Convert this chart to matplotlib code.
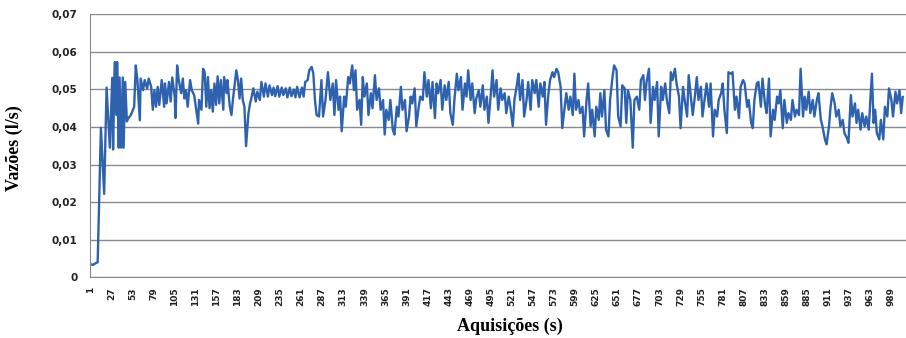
import numpy as np
import matplotlib
matplotlib.use("Agg")
import matplotlib.pyplot as plt

# --- data (acquisition s, flow l/s) ---
aquisicoes_ini = [1, 4, 8, 10, 14, 18, 21, 25, 28, 29, 31, 33, 34, 36, 37, 39, 41, 42, 44, 46,
                  48, 51, 55, 57, 59, 62, 63, 66, 68, 71, 73, 76, 78, 80, 82, 84, 86, 89, 92, 93,
                  95, 98, 100, 102, 105, 106, 108, 110, 113, 115, 117, 119, 121, 124, 126, 129, 131, 134, 135, 138,
                  140, 142, 144, 146, 148, 150, 152, 154, 156, 158, 160, 162, 165, 166, 169, 170, 173, 175, 177, 181,
                  183, 185, 187, 189, 191, 193, 196, 198, 200, 202, 205, 207, 210, 212, 215, 217, 220, 222, 225, 227,
                  229, 232, 234, 237, 239, 242, 244, 247, 249, 252, 254, 256, 259, 262, 264, 266, 269, 271, 274, 276,
                  278, 280]
vazoes_ini = [0.0035, 0.0033, 0.0038, 0.0040, 0.0398, 0.0222, 0.0505, 0.0345, 0.0531, 0.0340,
              0.0573, 0.0432, 0.0573, 0.0345, 0.0532, 0.0345, 0.0532, 0.0345, 0.0520, 0.0415,
              0.0424, 0.0432, 0.0454, 0.0564, 0.0525, 0.0418, 0.0529, 0.0498, 0.0525, 0.0503,
              0.0529, 0.0507, 0.0446, 0.0498, 0.0454, 0.0507, 0.0459, 0.0525, 0.0454, 0.0516,
              0.0463, 0.0520, 0.0468, 0.0532, 0.0481, 0.0424, 0.0564, 0.0525, 0.0490, 0.0529,
              0.0476, 0.0498, 0.0454, 0.0525, 0.0498, 0.0485, 0.0454, 0.0409, 0.0472, 0.0446,
              0.0555, 0.0546, 0.0454, 0.0533, 0.0450, 0.0498, 0.0441, 0.0516, 0.0459, 0.0535,
              0.0463, 0.0525, 0.0446, 0.0533, 0.0490, 0.0525, 0.0454, 0.0432, 0.0476, 0.0551,
              0.0525, 0.0476, 0.0529, 0.0472, 0.0454, 0.0349, 0.0437, 0.0463, 0.0481, 0.0503,
              0.0468, 0.0494, 0.0472, 0.0520, 0.0481, 0.0516, 0.0481, 0.0511, 0.0485, 0.0505,
              0.0482, 0.0509, 0.0481, 0.0505, 0.0485, 0.0503, 0.0479, 0.0505, 0.0482, 0.0500,
              0.0479, 0.0507, 0.0479, 0.0505, 0.0481, 0.0520, 0.0525, 0.0551, 0.0560, 0.0542,
              0.0472, 0.0432]

aquisicoes_meio = [283, 286, 288, 291, 294, 297, 300, 302, 304, 307, 309, 311, 314, 316, 319, 321, 324, 326, 328, 330,
                   333, 335, 337, 339, 342, 344, 347, 349, 352, 354, 357, 359, 362, 364, 366, 369, 371, 374, 376, 379,
                   381, 384, 386, 389, 391, 394, 396, 398, 401, 403, 406, 408, 411, 413, 416, 418, 421, 423, 426, 428,
                   430, 433, 435, 438, 440, 443, 445, 448, 450, 453, 455, 458, 460, 463, 465, 467, 470, 472, 475, 477,
                   480, 482, 485, 487, 490, 492, 495, 497, 499, 502, 504, 507, 509, 512, 514, 517, 519, 522, 524, 527,
                   529, 531, 534, 536, 539, 541, 544, 546, 549, 551, 554, 556, 559, 561, 563, 566, 568, 571, 573, 576,
                   578, 581, 583, 586, 588, 591, 593, 596, 598, 600, 603, 605, 608, 610, 613, 615, 618, 620, 623, 625,
                   628, 630, 632, 635, 637, 640, 642, 645, 647, 650, 652]
vazoes_meio = [0.0428, 0.0525, 0.0428, 0.0472, 0.0546, 0.0472, 0.0516, 0.0432, 0.0525, 0.0446,
               0.0481, 0.0389, 0.0481, 0.0454, 0.0533, 0.0516, 0.0564, 0.0498, 0.0551, 0.0446,
               0.0472, 0.0406, 0.0533, 0.0481, 0.0516, 0.0432, 0.0490, 0.0450, 0.0538, 0.0472,
               0.0503, 0.0446, 0.0472, 0.0380, 0.0446, 0.0419, 0.0472, 0.0393, 0.0380, 0.0454,
               0.0428, 0.0507, 0.0446, 0.0472, 0.0389, 0.0428, 0.0481, 0.0463, 0.0503, 0.0402,
               0.0454, 0.0481, 0.0472, 0.0546, 0.0481, 0.0525, 0.0450, 0.0520, 0.0424, 0.0516,
               0.0490, 0.0525, 0.0446, 0.0511, 0.0472, 0.0520, 0.0437, 0.0406, 0.0472, 0.0542,
               0.0498, 0.0533, 0.0446, 0.0516, 0.0481, 0.0551, 0.0472, 0.0516, 0.0437, 0.0476,
               0.0498, 0.0454, 0.0511, 0.0446, 0.0481, 0.0411, 0.0490, 0.0551, 0.0481, 0.0525,
               0.0446, 0.0503, 0.0472, 0.0490, 0.0437, 0.0481, 0.0454, 0.0402, 0.0472, 0.0511,
               0.0542, 0.0472, 0.0525, 0.0428, 0.0472, 0.0520, 0.0446, 0.0525, 0.0490, 0.0525,
               0.0454, 0.0516, 0.0481, 0.0520, 0.0406, 0.0490, 0.0525, 0.0546, 0.0533, 0.0555,
               0.0546, 0.0507, 0.0397, 0.0454, 0.0490, 0.0446, 0.0481, 0.0432, 0.0542, 0.0446,
               0.0472, 0.0437, 0.0454, 0.0375, 0.0472, 0.0516, 0.0402, 0.0446, 0.0375, 0.0454,
               0.0419, 0.0490, 0.0428, 0.0498, 0.0393, 0.0375, 0.0472, 0.0533, 0.0564, 0.0551,
               0.0428]

aquisicoes_fim = [655, 657, 660, 662, 664, 667, 670, 672, 675, 678, 680, 683, 685, 687, 690, 692, 695, 697, 700, 702,
                  705, 707, 710, 712, 715, 717, 719, 722, 724, 727, 729, 732, 734, 737, 739, 742, 744, 747, 749, 751,
                  754, 756, 759, 761, 764, 766, 769, 771, 774, 776, 779, 781, 783, 786, 788, 791, 793, 796, 798, 801,
                  803, 806, 808, 811, 813, 816, 818, 820, 823, 825, 828, 830, 833, 835, 838, 840, 843, 845, 848, 850,
                  852, 855, 857, 860, 862, 865, 867, 870, 872, 875, 877, 880, 882, 884, 887, 889, 892, 894, 897, 899,
                  902, 904, 907, 909, 912, 914, 916, 919, 921, 924, 926, 929, 931, 934, 936, 939, 941, 944, 946, 948,
                  951, 953, 956, 958, 961, 963, 965, 967, 969, 971, 974, 976, 979, 981, 984, 986, 989, 991, 994, 996,
                  999, 1001, 1003]
vazoes_fim = [0.0402, 0.0511, 0.0503, 0.0411, 0.0498, 0.0472, 0.0345, 0.0472, 0.0481, 0.0446,
              0.0525, 0.0538, 0.0472, 0.0520, 0.0555, 0.0411, 0.0507, 0.0472, 0.0520, 0.0375,
              0.0507, 0.0472, 0.0516, 0.0472, 0.0437, 0.0546, 0.0525, 0.0555, 0.0516, 0.0481,
              0.0397, 0.0507, 0.0472, 0.0428, 0.0538, 0.0472, 0.0432, 0.0490, 0.0533, 0.0472,
              0.0507, 0.0428, 0.0481, 0.0516, 0.0454, 0.0516, 0.0375, 0.0446, 0.0428, 0.0472,
              0.0490, 0.0516, 0.0446, 0.0384, 0.0546, 0.0542, 0.0546, 0.0446, 0.0481, 0.0424,
              0.0507, 0.0525, 0.0516, 0.0454, 0.0472, 0.0411, 0.0397, 0.0472, 0.0516, 0.0520,
              0.0454, 0.0529, 0.0463, 0.0437, 0.0529, 0.0375, 0.0446, 0.0419, 0.0481, 0.0463,
              0.0498, 0.0397, 0.0472, 0.0411, 0.0437, 0.0419, 0.0472, 0.0428, 0.0446, 0.0432,
              0.0555, 0.0428, 0.0481, 0.0446, 0.0494, 0.0437, 0.0472, 0.0428, 0.0472, 0.0490,
              0.0419, 0.0402, 0.0367, 0.0354, 0.0402, 0.0454, 0.0490, 0.0463, 0.0428, 0.0446,
              0.0402, 0.0419, 0.0384, 0.0371, 0.0358, 0.0485, 0.0428, 0.0463, 0.0411, 0.0446,
              0.0393, 0.0437, 0.0402, 0.0428, 0.0393, 0.0472, 0.0542, 0.0411, 0.0446, 0.0384,
              0.0367, 0.0419, 0.0367, 0.0454, 0.0428, 0.0503, 0.0472, 0.0428, 0.0494, 0.0463,
              0.0498, 0.0437, 0.0480]

x_ticks = list(range(1, 990, 26))
y_ticks = [0, 0.01, 0.02, 0.03, 0.04, 0.05, 0.06, 0.07]
y_labels = ["0", "0,01", "0,02", "0,03", "0,04", "0,05", "0,06", "0,07"]

x = np.array(aquisicoes_ini + aquisicoes_meio + aquisicoes_fim)
y = np.array(vazoes_ini + vazoes_meio + vazoes_fim)

# --- plot ---
fig = plt.figure(figsize=(9.06, 3.38), dpi=100)
ax = fig.add_axes([0.0993, 0.1796, 0.9007, 0.778])

ax.plot(x, y, color="#2E62AE", lw=1.7)

ax.set_xlim(0.5, 1007)
ax.set_ylim(0, 0.07)
ax.set_yticks(y_ticks)
ax.set_yticklabels(y_labels, fontsize=7.5, fontweight="bold", color="#222222")
ax.set_xticks(x_ticks)
ax.set_xticklabels([str(t) for t in x_ticks], rotation=90, fontsize=6.5,
                   fontweight="bold", color="#222222")
ax.tick_params(axis="y", length=0, pad=9)
ax.tick_params(axis="x", length=0, pad=7)

ax.grid(axis="y", color="#8a8a8a", lw=1.0)
ax.set_axisbelow(True)
for s in ["top", "right"]:
    ax.spines[s].set_visible(False)
ax.spines["left"].set_color("#8a8a8a")
ax.spines["bottom"].set_color("#8a8a8a")

ax.set_xlabel("Aquisições (s)", family="Liberation Serif", fontweight="bold", fontsize=13)
ax.set_ylabel("Vazões (l/s)", family="Liberation Serif", fontweight="bold", fontsize=13)
ax.xaxis.set_label_coords(0.515, -0.155)
ax.yaxis.set_label_coords(-0.082, 0.49)

fig.savefig("out.png", dpi=100, facecolor="white")
